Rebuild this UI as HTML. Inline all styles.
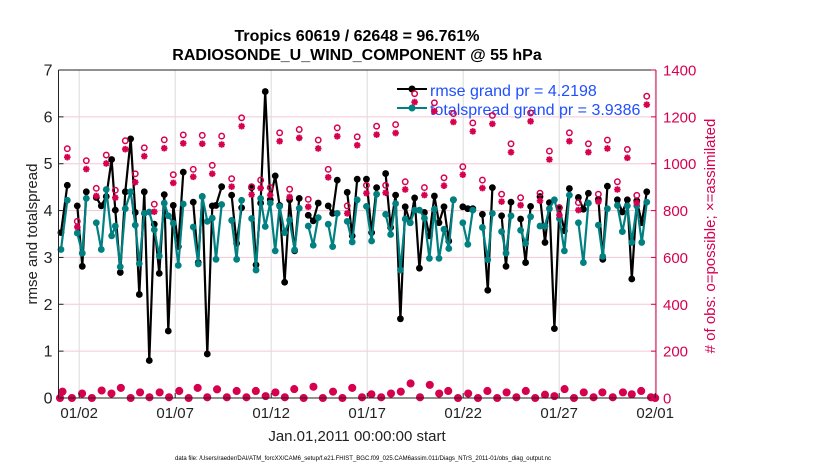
<!DOCTYPE html>
<html><head><meta charset="utf-8"><style>
html,body{margin:0;padding:0;background:#fff;}
svg{display:block;font-family:"Liberation Sans",Arial,sans-serif;}
</style></head><body>
<svg id="chart" width="830" height="470" viewBox="0 0 830 470" xmlns="http://www.w3.org/2000/svg">
<rect x="0" y="0" width="830" height="470" fill="#fff"/>
<g id="grid"></g>
<g id="series"></g>
<g id="legend">
  <line x1="397" y1="89" x2="427" y2="89" stroke="#000" stroke-width="2"/>
  <circle cx="412" cy="89" r="3.5" fill="#000"/>
  <text x="430" y="96" font-size="16" fill="#1f4fff">rmse grand pr = 4.2198</text>
  <line x1="397" y1="108" x2="427" y2="108" stroke="#008080" stroke-width="2"/>
  <circle cx="412" cy="108" r="3.5" fill="#008080"/>
  <text x="430" y="115" font-size="16" fill="#1f4fff">totalspread grand pr = 3.9386</text>
</g>
<g id="pink"></g>
<g id="axes"></g>
<text x="357" y="41" font-size="16" font-weight="bold" text-anchor="middle">Tropics 60619 / 62648 = 96.761%</text>
<text x="357" y="60" font-size="16" font-weight="bold" text-anchor="middle">RADIOSONDE_U_WIND_COMPONENT @ 55 hPa</text>
<text transform="translate(37,234) rotate(-90)" font-size="15" text-anchor="middle" fill="#222">rmse and totalspread</text>
<text transform="translate(715,236) rotate(-90)" font-size="15" text-anchor="middle" fill="#d6004f"># of obs: o=possible; ×=assimilated</text>
<text x="357" y="441" font-size="15" text-anchor="middle" fill="#222">Jan.01,2011 00:00:00 start</text>
<text x="363" y="460" font-size="6.5" text-anchor="middle" textLength="376" lengthAdjust="spacingAndGlyphs" fill="#000">data file: /Users/raeder/DAI/ATM_forcXX/CAM6_setup/f.e21.FHIST_BGC.f09_025.CAM6assim.011/Diags_NTrS_2011-01/obs_diag_output.nc</text>
</svg>
<script>
const times = [0.05,0.38,0.90,1.16,1.37,1.89,2.15,2.41,2.69,2.88,3.14,3.40,3.68,3.92,4.13,4.39,4.65,4.91,5.17,5.43,5.64,5.90,6.16,6.42,6.94,7.20,7.41,7.67,7.93,
8.125,8.42,8.94,9.20,9.46,9.98,10.21,10.45,10.69,10.95,11.21,11.44,11.70,11.96,12.22,12.46,12.93,13.19,13.45,13.97,14.20,14.44,14.96,15.22,15.48,15.96,
16.23,16.49,16.96,17.22,17.48,17.73,17.98,18.24,18.47,18.72,18.98,19.24,19.50,19.74,20.0,20.25,20.49,20.98,21.24,21.50,22.0,22.28,22.52,
23.0,23.23,23.49,23.99,24.25,24.51,25.0,25.26,25.49,25.75,26.01,26.27,26.53,27.0,27.26,27.52,28.04,28.27,28.51,29.03,29.29,29.55,29.78,30.04,30.30,30.56];
const rmse = [3.53,4.54,4.10,2.81,4.40,4.28,4.10,4.30,5.09,4.01,2.68,4.40,5.53,3.96,2.21,4.40,0.80,3.71,2.66,4.34,1.43,4.11,3.23,4.82,4.18,2.89,4.30,0.94,4.10,
4.11,4.51,4.33,3.30,4.06,4.49,2.84,4.16,6.54,4.23,4.74,4.11,2.47,4.23,3.14,4.26,3.90,3.78,4.16,4.10,3.94,4.65,4.39,3.46,4.67,4.67,
3.53,4.49,4.79,3.64,4.33,1.69,4.08,3.74,4.27,2.77,3.96,3.46,4.31,3.74,4.08,3.35,4.23,4.08,4.04,4.04,3.92,2.30,4.49,
3.89,2.81,4.18,3.82,2.89,4.09,4.30,3.32,4.17,1.48,4.06,3.57,4.47,4.28,4.03,4.37,4.24,2.96,4.52,4.23,3.97,4.23,2.54,4.21,3.74,4.40];
const spread = [3.17,4.22,3.52,3.09,4.26,3.74,3.17,4.45,3.46,3.67,2.80,4.04,4.40,3.69,2.87,3.94,3.97,3.59,3.03,4.16,3.89,3.73,2.83,4.14,3.65,2.86,4.30,3.77,3.84,
2.96,4.13,3.79,2.96,4.22,3.83,2.73,4.26,3.66,4.16,3.14,4.09,3.53,3.80,3.16,4.05,3.67,3.26,3.85,3.71,3.23,3.94,3.77,3.33,4.23,4.09,
3.35,4.35,3.92,3.49,4.15,2.73,3.82,3.74,4.01,4.01,3.84,2.98,4.03,2.98,3.60,3.19,4.23,3.74,3.28,4.01,3.64,2.95,3.94,
3.55,3.09,3.89,3.58,3.30,3.87,3.67,3.67,4.04,4.23,3.83,3.14,4.33,3.74,2.89,4.16,3.69,3.02,4.04,4.11,3.55,4.10,3.32,4.10,3.32,4.18];
const obsTimes = [0.38,0.90,1.37,1.89,2.41,2.88,3.40,3.92,4.39,4.91,5.43,5.90,6.42,6.94,7.41,7.93,8.42,8.94,9.46,9.98,10.45,10.95,11.44,11.96,12.46,12.93,13.45,13.97,14.44,14.96,15.48,15.96,16.49,16.96,17.48,17.98,18.47,18.98,19.50,20.0,20.49,20.98,21.50,22.0,22.52,23.0,23.49,23.99,24.51,25.0,25.49,26.01,26.53,27.0,27.52,28.04,28.51,29.03,29.55,30.04,30.56];
const possible = [1064,754,1013,895,1037,887,1098,957,1068,827,1102,953,1123,976,1121,993,1118,936,1196,902,930,898,1132,891,1146,848,1101,976,1153,820,1115,908,1160,908,1167,923,1299,898,1260,940,1214,987,1174,930,1206,870,1085,855,1217,874,1054,813,1132,834,1085,870,1101,923,1061,865,1288];
const assimilated = [1028,730,977,862,1001,855,1062,921,1032,795,1066,918,1087,944,1085,957,1082,902,1160,868,896,866,1096,858,1110,816,1065,942,1117,788,1079,874,1124,876,1131,890,1263,866,1224,906,1178,953,1138,896,1170,838,1049,823,1181,842,1018,781,1096,802,1049,838,1065,890,1025,833,1252];
const lowTimes = [0.0,0.13,0.62,1.15,1.66,2.17,2.68,3.17,3.68,4.17,4.66,5.19,5.68,6.21,6.70,7.17,7.67,8.18,8.69,9.20,9.71,10.20,10.71,11.22,11.71,12.20,12.69,13.20,13.69,14.22,14.71,15.22,15.73,16.22,16.73,17.24,17.75,18.26,18.75,19.26,19.75,20.22,20.73,21.26,21.77,22.26,22.77,23.26,23.77,24.26,24.75,25.26,25.75,26.28,26.77,27.28,27.79,28.25,28.79,29.32,29.78,30.27,30.78,31.0];
const lowCounts = [0,27,0,19,0,32,19,43,0,24,3,24,3,30,0,43,3,37,3,30,3,30,8,24,3,38,0,48,0,27,0,43,3,16,3,19,27,62,3,56,19,30,0,19,0,30,0,24,3,30,0,14,8,38,0,24,3,24,3,24,16,30,3,0];
const leftTicks = [0,1,2,3,4,5,6,7];
const rightTicks = [0,200,400,600,800,1000,1200,1400];
const dateTicks = [1,6,11,16,21,26,31];
const dateLabels = ["01/02","01/07","01/12","01/17","01/22","01/27","02/01"];

const NS = "http://www.w3.org/2000/svg";
const L = 58.5, R = 656, T = 70, B = 398;
function xs(t){ return 60 + t * 19.2; }
function yl(v){ return B - v * (B - T) / 7; }
function yr(c){ return B - c * (B - T) / 1400; }
const PINK = "#d6004f";
function mk(tag, attrs, parent){
  const el = document.createElementNS(NS, tag);
  for (const k in attrs) el.setAttribute(k, attrs[k]);
  parent.appendChild(el);
  return el;
}
const grid = document.getElementById('grid');
const series = document.getElementById('series');
const pink = document.getElementById('pink');
const axes = document.getElementById('axes');

leftTicks.forEach(v => {
  if (v === 0 || v === 7) return;
  const g = mk('line', {x1:L, x2:R, y1:yl(v), y2:yl(v), stroke:'#f3c6d6', 'stroke-width':1}, grid);
  
  
});
dateTicks.forEach(d => {
  const g = mk('line', {x1:xs(d), x2:xs(d), y1:T, y2:B, stroke:'#dcdcdc', 'stroke-width':1}, grid);
  
  
});

function drawSeries(vals, color, name){
  let d = '', prev = null;
  times.forEach((t, i) => {
    const p = xs(t).toFixed(1) + ',' + yl(vals[i]).toFixed(1);
    if (prev === null || t - prev > 0.4) d += 'M' + p; else d += 'L' + p;
    prev = t;
  });
  const path = mk('path', {d:d, fill:'none', stroke:color, 'stroke-width':2.2, 'stroke-linejoin':'round'}, series);
  
  
  times.forEach((t, i) => {
    const c = mk('circle', {cx:xs(t), cy:yl(vals[i]), r:3.4, fill:color}, series);
    
    
  });
}
drawSeries(rmse, '#000', 'rmse');
drawSeries(spread, '#008080', 'totalspread');

function asterisk(cx, cy, name){
  const s = 3.3, d = s * 0.72;
  const p = `M${cx-s},${cy}L${cx+s},${cy}M${cx},${cy-s}L${cx},${cy+s}M${cx-d},${cy-d}L${cx+d},${cy+d}M${cx-d},${cy+d}L${cx+d},${cy-d}`;
  const el = mk('path', {d:p, stroke:PINK, 'stroke-width':1.8, fill:'none'}, pink);
  
  
}
function ring(cx, cy, name, filled){
  const el = mk('circle', {cx:cx, cy:cy, r:filled ? 3.3 : 2.7, fill:filled ? PINK : 'none', stroke:PINK, 'stroke-width':1.5}, pink);
  
  
}
obsTimes.forEach((t, i) => {
  ring(xs(t), yr(possible[i]), 'possible-marker', false);
  asterisk(xs(t), yr(assimilated[i]), 'assimilated-marker');
});
lowTimes.forEach((t, i) => {
  ring(xs(t), yr(lowCounts[i]), 'possible-marker-low', true);
  asterisk(xs(t), yr(lowCounts[i]), 'assimilated-marker-low');
});

let a = mk('line', {x1:L, x2:R, y1:T, y2:T, stroke:'#222', 'stroke-width':1}, axes);


a = mk('line', {x1:L, x2:R, y1:B, y2:B, stroke:'#222', 'stroke-width':1}, axes);


a = mk('line', {x1:L, x2:L, y1:T, y2:B, stroke:'#222', 'stroke-width':1}, axes);


a = mk('line', {x1:R, x2:R, y1:T, y2:B, stroke:PINK, 'stroke-width':1}, axes);



leftTicks.forEach(v => {
  const tk = mk('line', {x1:L, x2:L+5, y1:yl(v), y2:yl(v), stroke:'#222'}, axes);
  
  
  const tx = mk('text', {x:L-6, y:yl(v)+5.5, 'font-size':16, 'text-anchor':'end', fill:'#222'}, axes);
  tx.textContent = v;
  
  
});
rightTicks.forEach(c => {
  const tk = mk('line', {x1:R-5, x2:R, y1:yr(c), y2:yr(c), stroke:PINK}, axes);
  
  
  const tx = mk('text', {x:R+7, y:yr(c)+5.5, 'font-size':15, 'text-anchor':'start', fill:PINK}, axes);
  tx.textContent = c;
  
  
});
dateTicks.forEach((d, i) => {
  const tk = mk('line', {x1:xs(d), x2:xs(d), y1:B, y2:B-5, stroke:'#222'}, axes);
  
  
  const tx = mk('text', {x:xs(d), y:418, 'font-size':15, 'text-anchor':'middle', fill:'#222'}, axes);
  tx.textContent = dateLabels[i];
  
  
});
</script>
</body></html>
